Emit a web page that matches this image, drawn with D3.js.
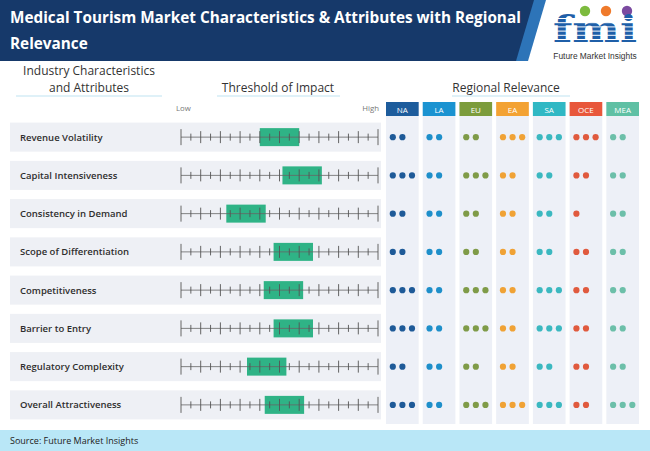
<!DOCTYPE html>
<html><head><meta charset="utf-8">
<script src="https://cdn.jsdelivr.net/npm/d3@7"></script>
<style>body{margin:0;background:#fff;}svg{display:block;font-family:"Open Sans",sans-serif;}</style>
</head><body><svg id="c" width="650" height="451"></svg>
<script>
const attributes = ["Revenue Volatility","Capital Intensiveness","Consistency in Demand","Scope of Differentiation","Competitiveness","Barrier to Entry","Regulatory Complexity","Overall Attractiveness"];
// threshold of impact: centre of highlighted band on a 0 (Low) – 100 (High) scale
const impactCenter = [50, 61.5, 33, 57, 52, 57, 43.5, 52.5];
const bandWidth = 20;
const regions = ["NA","LA","EU","EA","SA","OCE","MEA"];
const regionColors = ["#1d5c9c","#1b93d1","#7c9c3c","#f3a233","#30b8c4","#e8573b","#5fc0a4"];
const dotColors = ["#1e5a98","#1e8fca","#7f9b48","#f0a235","#3bb8c0","#e05a3e","#6cbfa9"];
// regional relevance dots: rows = attributes, cols = regions
const NA  = [2,3,2,2,3,3,2,3];
const LA  = [2,2,2,2,2,2,2,2];
const EU  = [2,3,2,2,3,3,2,3];
const EA  = [3,2,2,2,2,2,2,3];
const SA  = [3,2,2,2,3,3,2,3];
const OCE = [3,2,1,2,2,2,2,2];
const MEA = [2,2,2,2,2,2,2,3];
const relevance = [NA,LA,EU,EA,SA,OCE,MEA];
const tickCount = 21;

const svg = d3.select("#c");

// header
svg.append("path").attr("d","M0,0 H546 L528,61 H0 Z").attr("fill","#2d74b8");
svg.append("path").attr("d","M0,0 H534 L516,61 H0 Z").attr("fill","#16396a");
const title = svg.append("text").attr("fill","#fff").attr("font-size",15.3).attr("font-weight",700);
title.append("tspan").attr("x",10).attr("y",23).text("Medical Tourism Market Characteristics & Attributes with Regional");
title.append("tspan").attr("x",10).attr("y",49).text("Relevance");

// logo
const logo = svg.append("g");
[["#7dbb3e",585],["#ef7a2b",606],["#7b4aa0",627]].forEach(([c,x])=>logo.append("circle").attr("cx",x).attr("cy",11).attr("r",5.2).attr("fill",c));
logo.append("text").attr("x",595).attr("y",42).attr("text-anchor","middle").attr("font-family","DejaVu Serif")
  .attr("font-weight",700).attr("font-size",37).attr("fill","#1f5fa8").attr("textLength",84).attr("lengthAdjust","spacingAndGlyphs").text("fmi");
logo.append("text").attr("x",595).attr("y",58.6).attr("text-anchor","middle").attr("font-size",8.4).attr("fill","#333")
  .attr("font-family","Liberation Sans").text("Future Market Insights");
for(let i=0;i<6;i++) logo.append("rect").attr("x",550).attr("y",18+i*4.2).attr("width",92).attr("height",1).attr("fill","#fff");

// section headings
const headCol = "#333";
svg.append("text").attr("x",89).attr("y",75).attr("text-anchor","middle").attr("font-size",12).attr("fill",headCol).text("Industry Characteristics");
svg.append("text").attr("x",89).attr("y",91.5).attr("text-anchor","middle").attr("font-size",12).attr("fill",headCol).text("and Attributes");
svg.append("text").attr("x",278).attr("y",91.5).attr("text-anchor","middle").attr("font-size",12).attr("fill",headCol).text("Threshold of Impact");
svg.append("text").attr("x",506).attr("y",91.5).attr("text-anchor","middle").attr("font-size",12).attr("fill",headCol).text("Regional Relevance");
[[16,162],[217,340],[452,570]].forEach(([a,b])=>svg.append("line").attr("x1",a).attr("x2",b).attr("y1",96).attr("y2",96).attr("stroke","#bfe3f2").attr("stroke-width",1.2));

// scales
const y = d3.scaleBand().domain(attributes).range([118,424]).paddingInner(0.24).paddingOuter(0.12);
const xImpact = d3.scaleLinear().domain([0,100]).range([181,378]);
const xRegion = d3.scaleBand().domain(regions).range([386,639]).paddingInner(0.11).paddingOuter(0);

svg.append("text").attr("x",176).attr("y",111).attr("font-size",7.8).attr("fill","#777").text("Low");
svg.append("text").attr("x",379).attr("y",111).attr("text-anchor","end").attr("font-size",7.8).attr("fill","#777").text("High");

// region columns
regions.forEach((r,j)=>{
  const x = xRegion(r), w = xRegion.bandwidth();
  svg.append("rect").attr("x",x).attr("y",116).attr("width",w).attr("height",308).attr("fill","#edf0f7");
  svg.append("rect").attr("x",x).attr("y",102).attr("width",w).attr("height",14).attr("fill",regionColors[j]);
  svg.append("text").attr("x",x+w/2).attr("y",112.5).attr("text-anchor","middle").attr("font-size",8).attr("fill","#fff").text(r);
});

// rows
attributes.forEach((a,i)=>{
  const cy = y(a)+y.bandwidth()/2;
  svg.append("rect").attr("x",10).attr("y",y(a)).attr("width",371).attr("height",y.bandwidth()).attr("fill","#eef0f5");
  svg.append("text").attr("x",20).attr("y",cy+3.5).attr("font-size",9.5).attr("font-weight",600).attr("fill","#2e2e2e").text(a);
  // band
  const c = impactCenter[i];
  svg.append("rect").attr("x",xImpact(c-bandWidth/2)).attr("y",cy-9).attr("width",xImpact(c+bandWidth/2)-xImpact(c-bandWidth/2)).attr("height",18).attr("fill","#2fb386");
  // axis line + ticks
  svg.append("line").attr("x1",xImpact(0)).attr("x2",xImpact(100)).attr("y1",cy).attr("y2",cy).attr("stroke","#666").attr("stroke-width",0.8);
  d3.range(tickCount).forEach(k=>{
    const tx = xImpact(k*100/(tickCount-1));
    const h = (k===0||k===tickCount-1)?8:(k%2===0?6:3.5);
    svg.append("line").attr("x1",tx).attr("x2",tx).attr("y1",cy-h).attr("y2",cy+h).attr("stroke","#555").attr("stroke-width",0.9);
  });
  // dots
  regions.forEach((r,j)=>{
    const n = relevance[j][i];
    for(let d=0; d<n; d++){
      svg.append("circle").attr("cx",xRegion(r)+6.8+d*9.6).attr("cy",cy).attr("r",3.1).attr("fill",dotColors[j]);
    }
  });
});

// footer
svg.append("rect").attr("x",0).attr("y",430).attr("width",650).attr("height",21).attr("fill","#b9e7f7");
svg.append("text").attr("x",10).attr("y",444).attr("font-size",9).attr("fill","#222").text("Source: Future Market Insights");
</script></body></html>
